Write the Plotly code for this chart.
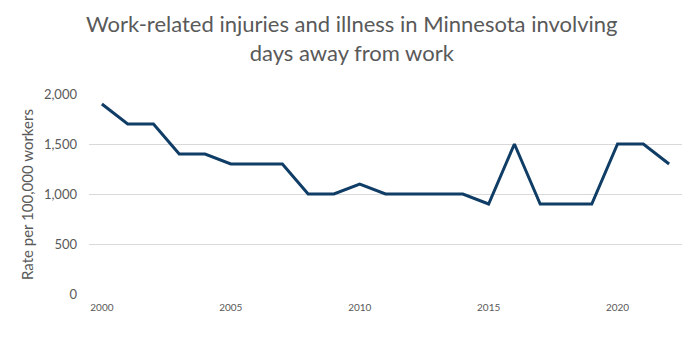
import plotly.graph_objects as go

years = list(range(2000, 2023))
rates = [1900, 1700, 1700, 1400, 1400, 1300, 1300, 1300, 1000, 1000, 1100,
         1000, 1000, 1000, 1000, 900, 1500, 900, 900, 900, 1500, 1500, 1300]
x_tick_vals = [2000, 2005, 2010, 2015, 2020]
y_tick_vals = [0, 500, 1000, 1500, 2000]
y_tick_text = ["0", "500", "1,000", "1,500", "2,000"]

fig = go.Figure()
fig.add_trace(go.Scatter(x=years, y=rates, mode="lines",
                         line=dict(color="#0f3d66", width=3), hoverinfo="x+y"))

fig.update_layout(
    width=700, height=359,
    paper_bgcolor="white", plot_bgcolor="white",
    margin=dict(l=81, r=26, t=86, b=73),
    showlegend=False,
    font=dict(family="Lato", color="#595959"),
)
fig.add_annotation(text="Work-related injuries and illness in Minnesota involving<br>days away from work",
                   xref="paper", yref="paper", x=0.4435, y=1.0,
                   yshift=26, xanchor="center", yanchor="bottom",
                   showarrow=False, align="center",
                   font=dict(size=22, color="#595959", family="Lato"))
fig.add_annotation(text="Rate per 100,000 workers",
                   xref="paper", yref="paper", x=-0.1046, y=0.5, textangle=-90,
                   xanchor="center", yanchor="middle", showarrow=False,
                   font=dict(size=15, color="#595959", family="Lato"))
fig.update_xaxes(range=[1999.5, 2022.5], tickvals=x_tick_vals, automargin=False,
                 showgrid=False, zeroline=False, showline=False, ticklabelstandoff=6,
                 tickfont=dict(size=10, color="#595959"), ticks="")
fig.update_yaxes(range=[0, 2000], tickvals=y_tick_vals, ticktext=y_tick_text,
                 automargin=False, ticklabelstandoff=11,
                 showgrid=True, gridcolor="#d9d9d9", gridwidth=1, zeroline=False,
                 tickfont=dict(size=13, color="#595959"), ticks="")

fig.write_html("out.html")
